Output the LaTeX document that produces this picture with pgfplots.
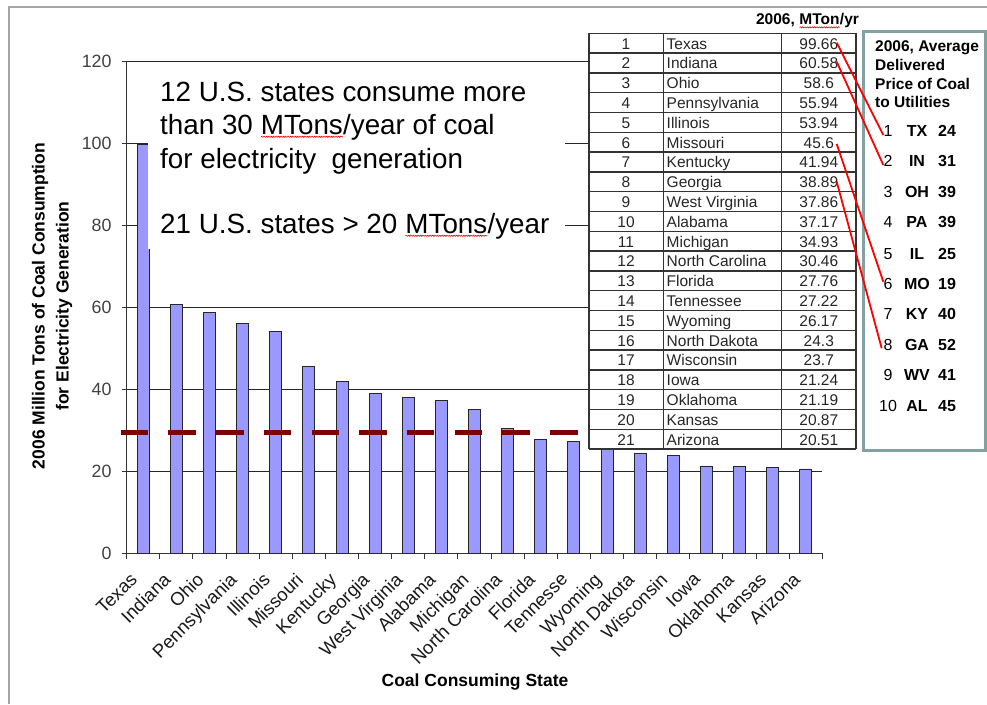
\documentclass[border=0pt]{standalone}
\usepackage{pgfplots}
\pgfplotsset{compat=1.18}
\usepackage{fontspec}
\setmainfont{Liberation Sans}
\usetikzlibrary{decorations.pathmorphing}

\definecolor{barblue}{RGB}{153,153,255}
\definecolor{darkred}{RGB}{128,0,0}
\definecolor{boxteal}{RGB}{130,162,162}
\definecolor{framegray}{RGB}{165,165,165}

\newcommand\fs[1]{\fontsize{#1pt}{#1pt}\selectfont}
% word with a red wavy underline
\newcommand\spell[1]{\tikz[baseline=(w.base)]{\node[inner sep=0pt,outer sep=0pt,anchor=center](w){#1};\draw[red,line width=0.6pt,decorate,decoration={snake,amplitude=0.6pt,segment length=2.4pt}]([yshift=-2.2pt]w.south west)--([yshift=-2.2pt]w.south east);}}

\begin{document}
\begin{tikzpicture}[x=1pt,y=1pt]
\useasboundingbox (0,0) rectangle (987,704);

% outer frame
\draw[framegray,line width=2pt] (8.5,0) -- (8.5,697) -- (987,697);

\begin{axis}[
  at={(126.7pt,151pt)}, anchor=south west,
  scale only axis, width=695.6pt, height=492pt,
  xmin=-0.5, xmax=20.5, ymin=0, ymax=120,
  clip=false,
  axis x line*=bottom, axis y line*=left,
  axis line style={black!80,line width=0.9pt,-},
  ytick={0,20,...,120},
  ymajorgrids, grid style={black!85,line width=0.7pt},
  xtick={0,...,20},
  xticklabels={Texas,Indiana,Ohio,Pennsylvania,Illinois,Missouri,Kentucky,Georgia,West Virginia,Alabama,Michigan,North Carolina,Florida,Tennesse,Wyoming,North Dakota,Wisconsin,Iowa,Oklahoma,Kansas,Arizona},
  minor xtick={-0.5,0.5,...,20.5},
  every major x tick/.append style={draw=none},
  tick align=outside,
  major tick length=5pt, minor tick length=6pt,
  tick style={black!80,line width=0.9pt},
  /pgf/number format/assume math mode=true,
  yticklabel style={font=\fs{17.8}, text=black!75, anchor=east, inner sep=0pt, xshift=-10pt},
  xticklabel style={font=\fs{18.5}, text=black!90, rotate=45, anchor=north east, inner sep=0pt, xshift=-19.5pt, yshift=0.5pt},
]
% coal burned for power, million tons (2006)
\addplot[ybar, bar width=12pt, fill=barblue, draw=black!85, line width=0.8pt]
  coordinates {(0,99.66) (1,60.58) (2,58.6) (3,55.94) (4,53.94) (5,45.6) (6,41.94)
    (7,38.89) (8,37.86) (9,37.17) (10,34.93) (11,30.46) (12,27.76) (13,27.22)
    (14,26.17) (15,24.3) (16,23.7) (17,21.24) (18,21.19) (19,20.87) (20,20.51)};
% 30 MTon/yr threshold
\addplot[darkred, line width=5pt, line cap=butt, dash pattern=on 27.5pt off 20.2pt]
  coordinates {(-0.681,29.3) (20.5,29.3)};
\end{axis}

% axis titles
\node[rotate=90, align=center, font=\fontsize{17.5pt}{24pt}\selectfont\bfseries] at (52,398)
  {2006 Million Tons of Coal Consumption\\for Electricity Generation};
\node[anchor=base, font=\fs{17.5}\bfseries] at (475,17.5) {Coal Consuming State};

% annotation
\fill[white] (148.3,639) rectangle (565,455);
\begin{scope}[every node/.style={anchor=base west, inner sep=0pt, font=\fs{27.8}}]
  \node at (160,602.3) {12 U.S. states consume more};
  \node at (160,569.7) {than 30 \spell{MTons}/year of coal};
  \node at (160,535.7) {for electricity\ \ generation};
  \node at (160,470.7) {21 U.S. states > 20 \spell{MTons}/year};
\end{scope}

% ranking table
\fill[white] (589,254.9) rectangle (856,670.7);
\node[anchor=base, font=\fs{15.5}\bfseries] at (807.5,679) {2006, \spell{MTon}/yr};
\foreach \i/\nm/\v in {1/Texas/99.66, 2/Indiana/60.58, 3/Ohio/58.6, 4/Pennsylvania/55.94,
    5/Illinois/53.94, 6/Missouri/45.6, 7/Kentucky/41.94, 8/Georgia/38.89,
    9/West Virginia/37.86, 10/Alabama/37.17, 11/Michigan/34.93, 12/North Carolina/30.46,
    13/Florida/27.76, 14/Tennessee/27.22, 15/Wyoming/26.17, 16/North Dakota/24.3,
    17/Wisconsin/23.7, 18/Iowa/21.24, 19/Oklahoma/21.19, 20/Kansas/20.87, 21/Arizona/20.51} {
  \pgfmathsetmacro\yb{704-33.3-(\i-0.5)*19.8-6}
  \node[anchor=base, inner sep=0pt, font=\fs{15.5}, text=black!85] at (626,\yb) {\i};
  \node[anchor=base west, inner sep=0pt, font=\fs{15.5}, text=black!85] at (666.5,\yb) {\nm};
  \node[anchor=base, inner sep=0pt, font=\fs{15.5}, text=black!85] at (818.8,\yb) {\v};
}
\foreach \k in {0,...,21}
  \draw[black!80,line width=1.3pt] (589,704-33.3-\k*19.8) -- (856,704-33.3-\k*19.8);
\foreach \xx in {589,663.3,781.7,856}
  \draw[black!80,line width=1.3pt] (\xx,670.7) -- (\xx,254.9);

% price box
\draw[boxteal, line width=3pt, fill=white] (863.3,253.3) rectangle (985,672.3);
\begin{scope}[every node/.style={anchor=base west, inner sep=0pt, font=\fs{15.5}\bfseries}]
  \node at (875,652.3) {2006, Average};
  \node at (875,633.3) {Delivered};
  \node at (875,614.7) {Price of Coal};
  \node at (875,596.7) {to Utilities};
\end{scope}
\foreach \n/\ab/\p/\yy in {1/TX/24/136.7, 2/IN/31/166.7, 3/OH/39/197.3, 4/PA/39/227.7,
    5/IL/25/259.3, 6/MO/19/290, 7/KY/40/320, 8/GA/52/350.7, 9/WV/41/381, 10/AL/45/411.7} {
  \node[anchor=base, inner sep=0pt, font=\fs{16}] at (888,704-\yy) {\n};
  \node[anchor=base, inner sep=0pt, font=\fs{16}\bfseries] at (917,704-\yy) {\ab};
  \node[anchor=base, inner sep=0pt, font=\fs{16}\bfseries] at (947,704-\yy) {\p};
}

% connectors
\begin{scope}[red, line width=1.8pt]
  \draw (836.7,661.3) -- (883.3,569);
  \draw (836.7,642.3) -- (883.3,539);
  \draw (836.7,560) -- (883.3,422.3);
  \draw (836.7,522.3) -- (881.7,355.7);
\end{scope}
\end{tikzpicture}
\end{document}
